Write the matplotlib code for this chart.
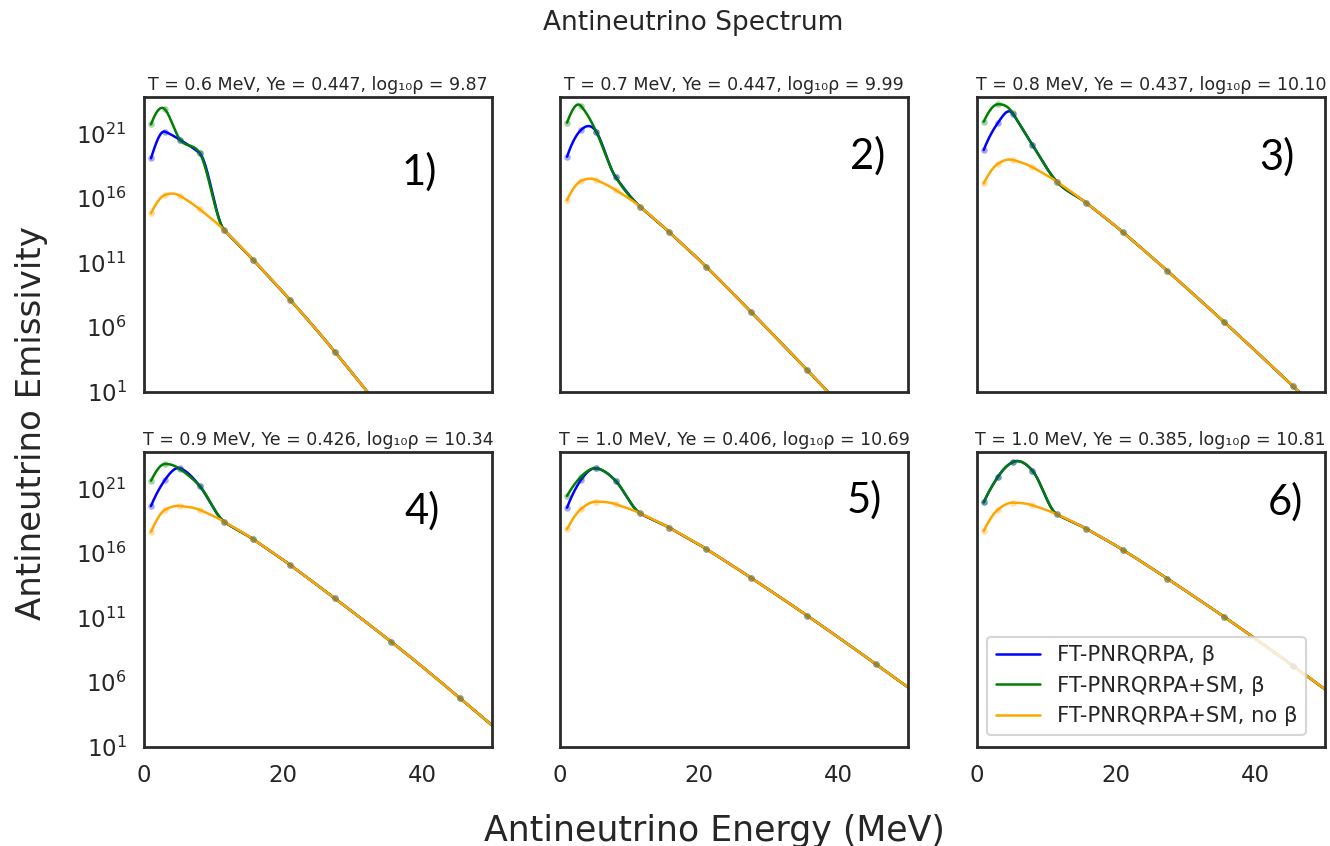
import numpy as np
import matplotlib
matplotlib.use("Agg")
import matplotlib.pyplot as plt
import seaborn as sns

# Antineutrino energy grid (MeV)
energy = [1.0, 3.0, 5.2, 8.0, 11.5, 15.7, 21.0, 27.4, 35.5, 45.4]

panel_titles = [
    "T = 0.6 MeV, Ye = 0.447, log\u2081\u2080\u03c1 = 9.87",
    "T = 0.7 MeV, Ye = 0.447, log\u2081\u2080\u03c1 = 9.99",
    "T = 0.8 MeV, Ye = 0.437, log\u2081\u2080\u03c1 = 10.10",
    "T = 0.9 MeV, Ye = 0.426, log\u2081\u2080\u03c1 = 10.34",
    "T = 1.0 MeV, Ye = 0.406, log\u2081\u2080\u03c1 = 10.69",
    "T = 1.0 MeV, Ye = 0.385, log\u2081\u2080\u03c1 = 10.81",
]
panel_tags = ["1)", "2)", "3)", "4)", "5)", "6)"]

series_labels = ["FT-PNRQRPA, \u03b2", "FT-PNRQRPA+SM, \u03b2", "FT-PNRQRPA+SM, no \u03b2"]

# log10 of emissivity, one list per panel
log_qrpa_beta = [
    [19.08, 21.14, 20.50, 19.47, 13.53, 11.20, 8.11, 4.10, -1.3, -8.0],
    [19.20, 21.27, 21.14, 17.61, 15.33, 13.35, 10.68, 7.20, 2.68, -3.0],
    [19.72, 21.79, 22.51, 20.11, 17.27, 15.64, 13.35, 10.35, 6.42, 1.44],
    [19.64, 21.66, 22.56, 21.19, 18.43, 17.06, 15.07, 12.49, 9.13, 4.75],
    [19.51, 21.66, 22.56, 21.58, 19.08, 17.96, 16.31, 14.09, 11.15, 7.38],
    [19.93, 21.87, 23.05, 22.38, 19.00, 17.89, 16.24, 14.01, 11.07, 7.27],
]
log_sm_beta = [
    [21.71, 22.87, 20.50, 19.47, 13.53, 11.20, 8.11, 4.10, -1.3, -8.0],
    [21.84, 23.13, 21.14, 17.61, 15.33, 13.35, 10.68, 7.20, 2.68, -3.0],
    [21.91, 23.26, 22.56, 20.11, 17.27, 15.64, 13.35, 10.35, 6.42, 1.44],
    [21.60, 22.90, 22.49, 21.19, 18.43, 17.06, 15.07, 12.49, 9.13, 4.75],
    [20.42, 21.91, 22.56, 21.58, 19.08, 17.96, 16.31, 14.09, 11.15, 7.38],
    [19.93, 21.87, 23.05, 22.38, 19.00, 17.89, 16.24, 14.01, 11.07, 7.27],
]
log_sm_nobeta = [
    [14.82, 16.24, 16.16, 15.13, 13.53, 11.20, 8.11, 4.10, -1.3, -8.0],
    [15.85, 17.32, 17.40, 16.62, 15.33, 13.35, 10.68, 7.20, 2.68, -3.0],
    [17.14, 18.64, 18.95, 18.38, 17.27, 15.64, 13.35, 10.35, 6.42, 1.44],
    [17.65, 19.34, 19.64, 19.34, 18.43, 17.06, 15.07, 12.49, 9.13, 4.75],
    [17.84, 19.41, 19.98, 19.78, 19.08, 17.96, 16.31, 14.09, 11.15, 7.38],
    [17.71, 19.34, 19.90, 19.70, 19.00, 17.89, 16.24, 14.01, 11.07, 7.27],
]

series_colors = ["blue", "green", "orange"]


def akima(x, y, xs):
    """Akima piecewise-cubic curve through (x, y), evaluated at xs."""
    x = np.asarray(x, float)
    y = np.asarray(y, float)
    n = len(x)
    m = np.diff(y) / np.diff(x)
    mm = np.empty(n + 3)
    mm[2:-2] = m
    mm[1] = 2 * mm[2] - mm[3]
    mm[0] = 2 * mm[1] - mm[2]
    mm[-2] = 2 * mm[-3] - mm[-4]
    mm[-1] = 2 * mm[-2] - mm[-3]
    t = np.empty(n)
    for i in range(n):
        w1 = abs(mm[i + 3] - mm[i + 2])
        w2 = abs(mm[i + 1] - mm[i])
        if w1 + w2 < 1e-12:
            t[i] = 0.5 * (mm[i + 1] + mm[i + 2])
        else:
            t[i] = (w1 * mm[i + 1] + w2 * mm[i + 2]) / (w1 + w2)
    idx = np.clip(np.searchsorted(x, xs) - 1, 0, n - 2)
    h = x[idx + 1] - x[idx]
    s = (xs - x[idx]) / h
    h00 = 2 * s ** 3 - 3 * s ** 2 + 1
    h10 = s ** 3 - 2 * s ** 2 + s
    h01 = -2 * s ** 3 + 3 * s ** 2
    h11 = s ** 3 - s ** 2
    out = h00 * y[idx] + h10 * h * t[idx] + h01 * y[idx + 1] + h11 * h * t[idx + 1]
    beyond = xs > x[-1]
    out[beyond] = y[-1] + t[-1] * (xs[beyond] - x[-1])
    return out


sns.set_theme(context="talk", style="white")
plt.rcParams["font.family"] = ["DejaVu Sans"]

fig = plt.figure(figsize=(13.3, 8.46), dpi=100)

col_left = [0.1083, 0.4211, 0.7344]
row_bottom = [0.537, 0.1174]
ax_w, ax_h = 0.2617, 0.3487
tag_pos = [(0.79, 0.745), (0.885, 0.80), (0.863, 0.795),
           (0.80, 0.80), (0.874, 0.836), (0.886, 0.83)]

e_fine = np.linspace(energy[0], 50, 800)
axes = []
for k in range(6):
    r, c = divmod(k, 3)
    ax = fig.add_axes([col_left[c], row_bottom[r], ax_w, ax_h],
                      sharex=axes[0] if axes else None,
                      sharey=axes[0] if axes else None)
    axes.append(ax)
    data = [log_qrpa_beta[k], log_sm_beta[k], log_sm_nobeta[k]]
    for vals, col, lab in zip(data, series_colors, series_labels):
        ax.plot(e_fine, 10 ** akima(energy, vals, e_fine),
                color=col, lw=1.8, label=lab)
    for vals, col in zip(data, series_colors):
        ax.scatter(energy, 10 ** np.asarray(vals), s=22, color=col,
                   alpha=0.35, linewidths=0, zorder=3)
    ax.set_yscale("log")
    ax.set_xlim(0, 50)
    ax.set_ylim(1e1, 10 ** 23.85)
    ax.set_yticks([1e1, 1e6, 1e11, 1e16, 1e21])
    ax.set_xticks([0, 20, 40])
    ax.minorticks_off()
    ax.set_title(panel_titles[k], fontsize=12.5, pad=5)
    ax.text(tag_pos[k][0], tag_pos[k][1], panel_tags[k], transform=ax.transAxes,
            fontsize=30, family="Lato", ha="center", va="center", color="black")
    if c != 0:
        ax.tick_params(labelleft=False)
    if r == 0:
        ax.tick_params(labelbottom=False)
    for sp in ax.spines.values():
        sp.set_linewidth(2.0)
        sp.set_color("#2a2a2a")

axes[5].legend(loc="lower right", bbox_to_anchor=(0.945, 0.04), fontsize=15.2,
               framealpha=0.8, borderaxespad=0.0, handlelength=2.1)

fig.text(0.521, 0.988, "Antineutrino Spectrum", ha="center", va="top", fontsize=19)
fig.text(0.024, 0.50, "Antineutrino Emissivity", rotation=90, ha="center",
         va="center", fontsize=24.5)
fig.text(0.537, 0.006, "Antineutrino Energy (MeV)", ha="center", va="baseline",
         fontsize=25)

fig.savefig("out.png", dpi=100)
